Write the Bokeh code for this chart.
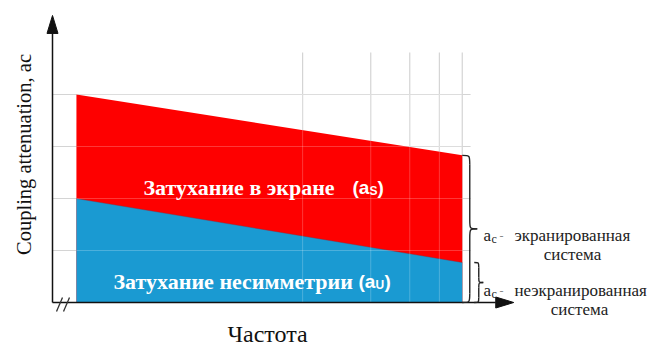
import numpy as np
from bokeh.plotting import figure
from bokeh.models import Range1d
from bokeh.core.properties import value
from bokeh.embed import file_html
from bokeh.resources import INLINE

# ---- data (schematic units) ----
freq_span = [4.6, 78.8]            # frequency start / end of the shaded areas
shield_top = [40.0, 28.3]          # a_c of screened system (top of red area)
unsym_top = [20.0, 7.7]            # a_U (top of blue area)
grid_x = [48.1, 61.2, 68.7, 74.4, 78.8]
grid_y = [10, 20, 30, 40]
grid_x_end = 80.4
grid_y_end = 48.1
axis_x_end = 88.7
axis_y_end = 55.2

RED = "#fe0000"
BLUE = "#1a9ad2"

S = 5.2
def px2x(px):
    return (px - 52) / S
def px2y(py):
    return (302 - py) / S

p = figure(width=656, height=351, output_backend="svg", toolbar_location=None,
           x_range=Range1d(px2x(0), px2x(656)), y_range=Range1d(px2y(351), px2y(0)),
           min_border=0)
p.axis.visible = False
p.grid.visible = False
p.outline_line_color = None

p.segment(x0=[0] * len(grid_y), y0=grid_y, x1=[grid_x_end] * len(grid_y), y1=grid_y,
          line_color="#d4d4d4", line_width=1.2)
p.segment(x0=grid_x, y0=[0] * len(grid_x), x1=grid_x, y1=[grid_y_end] * len(grid_x),
          line_color="#d4d4d4", line_width=1.2)

x0, x1 = freq_span
p.patch([x0, x1, x1, x0], [shield_top[0], shield_top[1], 0, 0], fill_color=RED, line_color=None)
p.patch([x0, x1, x1, x0], [unsym_top[0], unsym_top[1], 0, 0], fill_color=BLUE, line_color=None)
p.line([x0, x1], unsym_top, line_color="#8a2a3a", line_width=0.8, line_alpha=0.5)

p.segment(x0=[x0] * len(grid_y), y0=grid_y, x1=[x1] * len(grid_y), y1=grid_y,
          line_color="white", line_alpha=0.22, line_width=1)
p.segment(x0=grid_x[:-1], y0=[0] * (len(grid_x) - 1), x1=grid_x[:-1], y1=[shield_top[0]] * (len(grid_x) - 1),
          line_color="white", line_alpha=0.22, line_width=1)

AX = "#111111"
hl, hw = 18 / S, 5.5 / S
p.line([0, 0], [0, axis_y_end - hl], line_color=AX, line_width=1.5)
p.line([0, axis_x_end - hl], [0, 0], line_color=AX, line_width=1.5)
p.patch([0, -hw, hw], [axis_y_end, axis_y_end - hl, axis_y_end - hl], fill_color=AX, line_color=AX)
p.patch([axis_x_end, axis_x_end - hl, axis_x_end - hl], [0, hw, -hw], fill_color=AX, line_color=AX)

p.segment(x0=[px2x(56), px2x(63)], y0=[px2y(311), px2y(311)],
          x1=[px2x(62), px2x(69)], y1=[px2y(297), px2y(297)],
          line_color="#333333", line_width=1.3)

def brace(xs, ytop, ybot, w, d):
    xm = xs + w * 0.5
    xt = xs + w
    ym = (ytop + ybot) / 2
    bx0 = [xs, xm, xs, xm]
    by0 = [ytop, ym + d, ybot, ym - d]
    bx1 = [xm, xt, xm, xt]
    by1 = [ytop - d, ym, ybot + d, ym]
    cx0 = [xm, xm, xm, xm]
    cy0 = [ytop, ym, ybot, ym]
    p.bezier(x0=bx0, y0=by0, x1=bx1, y1=by1, cx0=cx0, cy0=cy0, cx1=cx0, cy1=cy0,
             line_color="#222222", line_width=1.4)
    p.segment(x0=[xm, xm], y0=[ytop - d, ym - d], x1=[xm, xm], y1=[ym + d, ybot + d],
              line_color="#222222", line_width=1.4)

brace(x1, shield_top[1], 0, 15 / S, 9 / S)
brace(x1 + 12 / S, unsym_top[1], 0, 9 / S, 5 / S)

SERIF = value("Liberation Serif")
SANS = value("Liberation Sans")

p.text(x=[px2x(23)], y=[px2y(154)], text=["Coupling attenuation, ac"], angle=np.pi / 2,
       text_font=SERIF, text_font_size="20.5px", text_color="#111111",
       text_align="center", text_baseline="middle")
p.text(x=[px2x(267)], y=[px2y(333)], text=["Частота"], text_font=SERIF,
       text_font_size="24px", text_color="#111111", text_align="center", text_baseline="alphabetic")

p.text(x=[px2x(143)], y=[px2y(187)], text=["Затухание в экране"], text_font=SERIF,
       text_font_size="22px", text_font_style="bold", text_color="white",
       text_align="left", text_baseline="alphabetic")
p.text(x=[px2x(352)], y=[px2y(187)], text=["(a"], text_font=SANS,
       text_font_size="19px", text_font_style="bold", text_color="white",
       text_align="left", text_baseline="alphabetic")
p.text(x=[px2x(369)], y=[px2y(190)], text=["S"], text_font=SANS,
       text_font_size="12px", text_font_style="bold", text_color="white",
       text_align="left", text_baseline="alphabetic")
p.text(x=[px2x(377)], y=[px2y(187)], text=[")"], text_font=SANS,
       text_font_size="19px", text_font_style="bold", text_color="white",
       text_align="left", text_baseline="alphabetic")

p.text(x=[px2x(113)], y=[px2y(281)], text=["Затухание несимметрии"], text_font=SERIF,
       text_font_size="22px", text_font_style="bold", text_color="white",
       text_align="left", text_baseline="alphabetic")
p.text(x=[px2x(358)], y=[px2y(281)], text=["(a"], text_font=SANS,
       text_font_size="19px", text_font_style="bold", text_color="white",
       text_align="left", text_baseline="alphabetic")
p.text(x=[px2x(375)], y=[px2y(284)], text=["U"], text_font=SANS,
       text_font_size="12px", text_font_style="bold", text_color="white",
       text_align="left", text_baseline="alphabetic")
p.text(x=[px2x(384)], y=[px2y(281)], text=[")"], text_font=SANS,
       text_font_size="19px", text_font_style="bold", text_color="white",
       text_align="left", text_baseline="alphabetic")

for by, word, sys_x in [(235, "экранированная", 572), (290, "неэкранированная", 579)]:
    p.text(x=[px2x(483)], y=[px2y(by)], text=["a"], text_font=SERIF, text_font_size="17px",
           text_color="#222222", text_align="left", text_baseline="alphabetic")
    p.text(x=[px2x(491)], y=[px2y(by + 3)], text=["c"], text_font=SERIF, text_font_size="12px",
           text_color="#222222", text_align="left", text_baseline="alphabetic")
    p.text(x=[px2x(499)], y=[px2y(by)], text=["-"], text_font=SERIF, text_font_size="12px",
           text_color="#888888", text_align="left", text_baseline="alphabetic")
    p.text(x=[px2x(514)], y=[px2y(by)], text=[word], text_font=SERIF, text_font_size="17px",
           text_color="#222222", text_align="left", text_baseline="alphabetic")
    p.text(x=[px2x(sys_x)], y=[px2y(by + 19)], text=["система"], text_font=SERIF,
           text_font_size="17px", text_color="#222222", text_align="center", text_baseline="alphabetic")

open("out.html", "w").write(file_html(p, INLINE))
